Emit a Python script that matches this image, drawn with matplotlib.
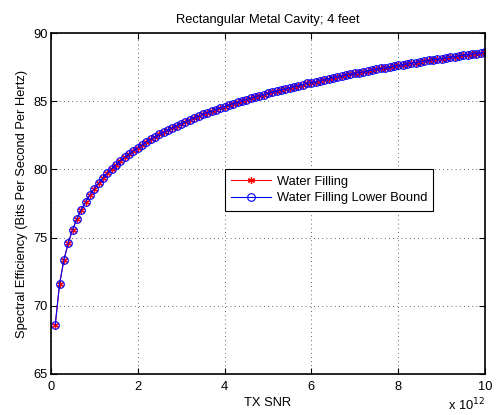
import matplotlib
matplotlib.use("Agg")
import matplotlib.pyplot as plt
import numpy as np

plt.rcParams['font.family'] = ['Liberation Sans', 'DejaVu Sans']

# TX SNR in units of 1e12
tx_snr = [0.1, 0.2, 0.3, 0.4, 0.5, 0.6, 0.7, 0.8, 0.9, 1.0,
          1.1, 1.2, 1.3, 1.4, 1.5, 1.6, 1.7, 1.8, 1.9, 2.0,
          2.1, 2.2, 2.3, 2.4, 2.5, 2.6, 2.7, 2.8, 2.9, 3.0,
          3.1, 3.2, 3.3, 3.4, 3.5, 3.6, 3.7, 3.8, 3.9, 4.0,
          4.1, 4.2, 4.3, 4.4, 4.5, 4.6, 4.7, 4.8, 4.9, 5.0,
          5.1, 5.2, 5.3, 5.4, 5.5, 5.6, 5.7, 5.8, 5.9, 6.0,
          6.1, 6.2, 6.3, 6.4, 6.5, 6.6, 6.7, 6.8, 6.9, 7.0,
          7.1, 7.2, 7.3, 7.4, 7.5, 7.6, 7.7, 7.8, 7.9, 8.0,
          8.1, 8.2, 8.3, 8.4, 8.5, 8.6, 8.7, 8.8, 8.9, 9.0,
          9.1, 9.2, 9.3, 9.4, 9.5, 9.6, 9.7, 9.8, 9.9, 10.0]

water_filling = [68.60, 71.61, 73.37, 74.62, 75.59, 76.38, 77.05, 77.63, 78.14, 78.60,
                 79.01, 79.39, 79.74, 80.06, 80.36, 80.64, 80.90, 81.15, 81.39, 81.61,
                 81.82, 82.02, 82.22, 82.40, 82.58, 82.75, 82.91, 83.07, 83.22, 83.37,
                 83.51, 83.65, 83.79, 83.91, 84.04, 84.16, 84.28, 84.40, 84.51, 84.62,
                 84.73, 84.83, 84.93, 85.03, 85.13, 85.23, 85.32, 85.41, 85.50, 85.59,
                 85.68, 85.76, 85.84, 85.92, 86.00, 86.08, 86.16, 86.23, 86.31, 86.38,
                 86.45, 86.52, 86.59, 86.66, 86.73, 86.80, 86.86, 86.93, 86.99, 87.05,
                 87.11, 87.17, 87.23, 87.29, 87.35, 87.41, 87.46, 87.52, 87.58, 87.63,
                 87.68, 87.74, 87.79, 87.84, 87.89, 87.94, 88.00, 88.04, 88.09, 88.14,
                 88.19, 88.24, 88.28, 88.33, 88.38, 88.42, 88.47, 88.51, 88.56, 88.60]

lower_bound = [68.60, 71.61, 73.37, 74.62, 75.59, 76.38, 77.05, 77.63, 78.14, 78.60,
               79.01, 79.39, 79.74, 80.06, 80.36, 80.64, 80.90, 81.15, 81.39, 81.61,
               81.82, 82.02, 82.22, 82.40, 82.58, 82.75, 82.91, 83.07, 83.22, 83.37,
               83.51, 83.65, 83.79, 83.91, 84.04, 84.16, 84.28, 84.40, 84.51, 84.62,
               84.73, 84.83, 84.93, 85.03, 85.13, 85.23, 85.32, 85.41, 85.50, 85.59,
               85.68, 85.76, 85.84, 85.92, 86.00, 86.08, 86.16, 86.23, 86.31, 86.38,
               86.45, 86.52, 86.59, 86.66, 86.73, 86.80, 86.86, 86.93, 86.99, 87.05,
               87.11, 87.17, 87.23, 87.29, 87.35, 87.41, 87.46, 87.52, 87.58, 87.63,
               87.68, 87.74, 87.79, 87.84, 87.89, 87.94, 88.00, 88.04, 88.09, 88.14,
               88.19, 88.24, 88.28, 88.33, 88.38, 88.42, 88.47, 88.51, 88.56, 88.60]

xticks = [0, 2, 4, 6, 8, 10]
yticks = [65, 70, 75, 80, 85, 90]

FS = 9.3

fig = plt.figure(figsize=(4.99, 4.15), dpi=100)
ax = fig.add_axes([0.102, 0.099, 0.870, 0.821])

ax.plot(tx_snr, water_filling, color='red', marker=(6, 2, 0), markersize=5,
        markeredgewidth=0.9, linewidth=0.8, label='Water Filling')
ax.plot(tx_snr, lower_bound, color='blue', marker='o', markersize=5.5,
        markerfacecolor='none', markeredgewidth=0.8, linewidth=0.8,
        label='Water Filling Lower Bound')

ax.set_xlim(0, 10)
ax.set_ylim(65, 90)
ax.set_xticks(xticks)
ax.set_yticks(yticks)
ax.tick_params(direction='in', top=True, right=True, labelsize=FS, length=4, width=0.8)
ax.tick_params(axis='x', pad=5)
ax.tick_params(axis='y', pad=2)
for s in ax.spines.values():
    s.set_linewidth(1.2)
ax.grid(True, linestyle=(0, (1, 4)), color='#333333', linewidth=0.6)

ax.set_title('Rectangular Metal Cavity; 4 feet', fontsize=FS, pad=7)
ax.set_xlabel('TX SNR', fontsize=FS, labelpad=3)
ax.set_ylabel('Spectral Efficiency (Bits Per Second Per Hertz)', fontsize=FS, labelpad=4)
ax.text(1.0, -0.107, r'x 10$^{12}$', transform=ax.transAxes, ha='right',
        va='baseline', fontsize=FS)

leg = ax.legend(loc='upper left', bbox_to_anchor=(0.401, 0.601), fontsize=FS,
                frameon=True, fancybox=False, edgecolor='black', framealpha=1,
                handlelength=3.1, borderpad=0.5, labelspacing=0.35,
                handletextpad=0.4, borderaxespad=0)
leg.get_frame().set_linewidth(0.8)

fig.savefig('out.png', dpi=100)
